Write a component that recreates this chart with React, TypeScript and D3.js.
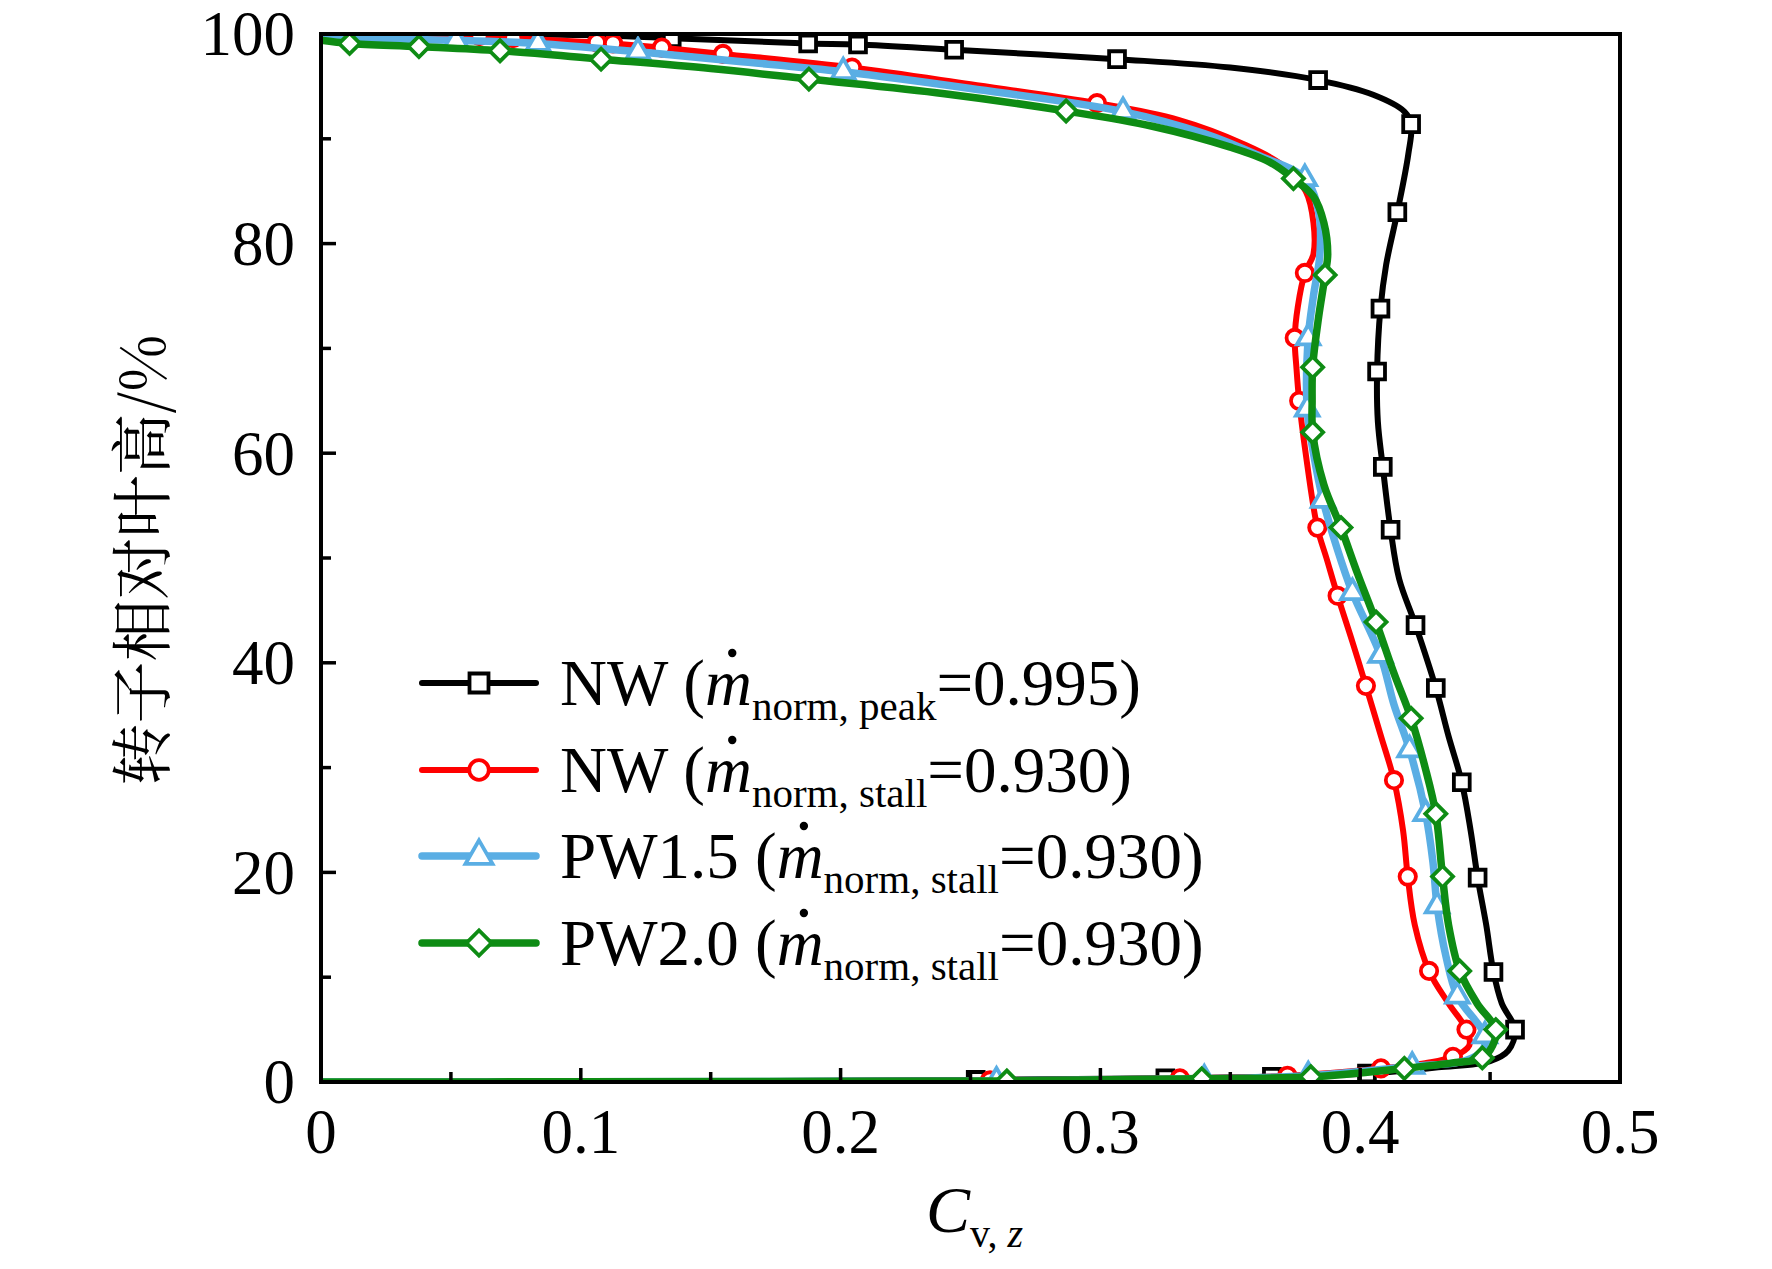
import { useEffect, useRef } from 'react';
import * as d3 from 'd3';

type Pt = [number, number];

// curves: [Cv,z, relative span %]
const nwPeakLine: Pt[] = [
  [0, 100], [0.1, 99.9], [0.135, 99.6], [0.1875, 99.1], [0.2067, 99.0], [0.2437, 98.5],
  [0.3064, 97.6], [0.35, 96.8], [0.3838, 95.6], [0.405, 94.2], [0.417, 92.6], [0.4196, 91.4],
  [0.4185, 88.5], [0.4143, 83.0], [0.41, 78.0], [0.4078, 73.8], [0.4065, 67.8], [0.4068, 63.0],
  [0.4087, 58.7], [0.4117, 52.7], [0.415, 48.0], [0.4213, 43.6], [0.4291, 37.6], [0.434, 33.0],
  [0.4391, 28.6], [0.4425, 24.0], [0.4452, 19.5], [0.4485, 15.0], [0.4513, 10.5], [0.4545, 7.5],
  [0.4596, 5.0], [0.457, 3.0], [0.45, 2.0], [0.43, 1.4], [0.4026, 0.8], [0.366, 0.5],
  [0.325, 0.35], [0.252, 0.2], [0.1, 0.05], [0, 0],
];
const nwPeakMarks: Pt[] = [
  [0.135, 99.6], [0.1875, 99.1], [0.2067, 99.0], [0.2437, 98.5], [0.3064, 97.6], [0.3838, 95.6],
  [0.4196, 91.4], [0.4143, 83.0], [0.4078, 73.8], [0.4065, 67.8], [0.4087, 58.7], [0.4117, 52.7],
  [0.4213, 43.6], [0.4291, 37.6], [0.4391, 28.6], [0.4452, 19.5], [0.4513, 10.5], [0.4596, 5.0],
  [0.4026, 0.8], [0.366, 0.5], [0.325, 0.35], [0.252, 0.2],
];

const nwStallLine: Pt[] = [
  [0, 100], [0.05, 99.9], [0.061, 99.8], [0.074, 99.6], [0.1062, 99.2], [0.1124, 99.1],
  [0.1312, 98.7], [0.1547, 98.1], [0.2044, 96.8], [0.25, 95.2], [0.2987, 93.4], [0.33, 91.8],
  [0.355, 89.5], [0.37, 87.5], [0.379, 85.0], [0.382, 82.0], [0.382, 79.0], [0.3787, 77.2],
  [0.376, 74.0], [0.3748, 71.0], [0.3755, 68.0], [0.3765, 65.0], [0.379, 60.0], [0.3835, 52.9],
  [0.387, 50.0], [0.3913, 46.4], [0.397, 42.0], [0.4022, 37.8], [0.408, 33.0], [0.413, 28.8],
  [0.4165, 24.0], [0.4183, 19.6], [0.421, 15.0], [0.4265, 10.6], [0.434, 7.5], [0.4409, 5.0],
  [0.442, 3.5], [0.4357, 2.4], [0.425, 1.8], [0.408, 1.3], [0.372, 0.6], [0.3306, 0.35],
  [0.2575, 0.15], [0.1, 0.05], [0, 0],
];
const nwStallMarks: Pt[] = [
  [0.061, 99.8], [0.074, 99.6], [0.1062, 99.2], [0.1124, 99.1], [0.1312, 98.7], [0.1547, 98.1],
  [0.2044, 96.8], [0.2987, 93.4], [0.3787, 77.2], [0.3748, 71.0], [0.3765, 65.0], [0.3835, 52.9],
  [0.3913, 46.4], [0.4022, 37.8], [0.413, 28.8], [0.4183, 19.6], [0.4265, 10.6], [0.4409, 5.0],
  [0.4357, 2.4], [0.408, 1.3], [0.372, 0.6], [0.3306, 0.35], [0.2575, 0.15],
];

const pw15Line: Pt[] = [
  [0, 99.6], [0.03, 99.5], [0.052, 99.4], [0.0835, 99.1], [0.122, 98.3], [0.16, 97.4],
  [0.201, 96.4], [0.25, 94.8], [0.3087, 92.6], [0.34, 90.5], [0.36, 88.5], [0.3787, 86.2],
  [0.384, 83.0], [0.3845, 79.0], [0.382, 75.0], [0.38, 71.0], [0.3796, 64.2], [0.382, 60.0],
  [0.3857, 55.5], [0.391, 51.0], [0.397, 46.7], [0.4078, 40.7], [0.413, 36.0], [0.419, 31.7],
  [0.4252, 25.6], [0.428, 21.0], [0.4296, 16.8], [0.433, 12.0], [0.4374, 8.2], [0.448, 4.4],
  [0.447, 3.0], [0.44, 2.0], [0.42, 1.5], [0.38, 0.6], [0.34, 0.3], [0.26, 0.1], [0.1, 0.02], [0, 0],
];
const pw15Marks: Pt[] = [
  [0.052, 99.4], [0.0835, 99.1], [0.122, 98.3], [0.201, 96.4], [0.3087, 92.6], [0.3787, 86.2],
  [0.38, 71.0], [0.3796, 64.2], [0.3857, 55.5], [0.397, 46.7], [0.4078, 40.7], [0.419, 31.7],
  [0.4252, 25.6], [0.4296, 16.8], [0.4374, 8.2], [0.448, 4.4], [0.42, 1.5], [0.38, 0.6],
  [0.34, 0.3], [0.26, 0.1],
];

const pw20Line: Pt[] = [
  [0, 99.4], [0.011, 99.1], [0.0377, 98.8], [0.0689, 98.4], [0.1078, 97.6], [0.15, 96.7],
  [0.1878, 95.7], [0.24, 94.3], [0.2868, 92.65], [0.32, 91.2], [0.35, 89.2], [0.365, 87.8],
  [0.3743, 86.2], [0.382, 84.5], [0.386, 82.0], [0.3875, 79.0], [0.3865, 77.0], [0.384, 73.0],
  [0.3817, 68.2], [0.3815, 65.0], [0.3817, 62.0], [0.386, 57.0], [0.3926, 52.9], [0.399, 48.5],
  [0.4061, 43.9], [0.413, 39.0], [0.4196, 34.7], [0.425, 30.0], [0.4291, 25.6], [0.4317, 19.6],
  [0.434, 15.0], [0.4383, 10.6], [0.445, 7.5], [0.4522, 5.0], [0.451, 3.5], [0.447, 2.3],
  [0.435, 1.8], [0.417, 1.3], [0.381, 0.5], [0.339, 0.3], [0.264, 0.1], [0.1, 0.02], [0, 0],
];
const pw20Marks: Pt[] = [
  [0.011, 99.1], [0.0377, 98.8], [0.0689, 98.4], [0.1078, 97.6], [0.1878, 95.7], [0.2868, 92.65],
  [0.3743, 86.2], [0.3865, 77.0], [0.3817, 68.2], [0.3817, 62.0], [0.3926, 52.9], [0.4061, 43.9],
  [0.4196, 34.7], [0.4291, 25.6], [0.4317, 19.6], [0.4383, 10.6], [0.4522, 5.0], [0.447, 2.3],
  [0.417, 1.3], [0.381, 0.5], [0.339, 0.3], [0.264, 0.1],
];

const legendNames = ['NW', 'NW', 'PW1.5', 'PW2.0'];
const legendSubs = ['norm, peak', 'norm, stall', 'norm, stall', 'norm, stall'];
const legendValues = ['0.995', '0.930', '0.930', '0.930'];

const xTicks = [0, 0.1, 0.2, 0.3, 0.4, 0.5];
const yTicks = [0, 20, 40, 60, 80, 100];

const SERIES = [
  { line: nwPeakLine, marks: nwPeakMarks, color: '#000000', width: 6, marker: 'square' },
  { line: nwStallLine, marks: nwStallMarks, color: '#ff0000', width: 6, marker: 'circle' },
  { line: pw15Line, marks: pw15Marks, color: '#5aaee4', width: 7.5, marker: 'triangle' },
  { line: pw20Line, marks: pw20Marks, color: '#0e8c14', width: 7.5, marker: 'diamond' },
];

const W = 1772;
const H = 1269;
const SERIF = '"Liberation Serif", "Times New Roman", serif';

function markerPath(kind: string, big: boolean) {
  const k = big ? 1.2 : 1;
  if (kind === 'square') return { d: d3.symbol(d3.symbolSquare, 250 * k * k)(), rot: 0 };
  if (kind === 'circle') return { d: d3.symbol(d3.symbolCircle, 210 * k * k)(), rot: 0 };
  if (kind === 'triangle') return { d: d3.symbol(d3.symbolTriangle, 220 * k * k)(), rot: 0 };
  return { d: d3.symbol(d3.symbolSquare, 220 * k * k)(), rot: 45 };
}

export default function App() {
  const svgRef = useRef<SVGSVGElement>(null);

  useEffect(() => {
    if (!svgRef.current) return;
    const svg = d3.select(svgRef.current);
    svg.selectAll('*').remove();

    const left = 321, right = 1620, top = 34, bottom = 1082;

    const x = d3.scaleLinear().domain([0, 0.5]).range([left, right]);
    const y = d3.scaleLinear().domain([0, 100]).range([bottom, top]);

    svg.append('defs')
      .append('clipPath')
      .attr('id', 'plot-clip')
      .append('rect')
      .attr('x', left)
      .attr('y', top)
      .attr('width', right - left)
      .attr('height', bottom - top);

    const line = d3
      .line<Pt>()
      .x((d) => x(d[0]))
      .y((d) => y(d[1]))
      .curve(d3.curveCatmullRom.alpha(0.5));

    const plot = svg.append('g').attr('clip-path', 'url(#plot-clip)');

    SERIES.forEach((s) => {
      plot.append('path')
        .datum(s.line)
        .attr('fill', 'none')
        .attr('stroke', s.color)
        .attr('stroke-width', s.width)
        .attr('stroke-linejoin', 'round')
        .attr('d', line);

      const mk = markerPath(s.marker, false);
      plot.selectAll(null)
        .data(s.marks)
        .join('path')
        .attr('d', mk.d)
        .attr('transform', (d) => `translate(${x(d[0])},${y(d[1])}) rotate(${mk.rot})`)
        .attr('fill', '#fff')
        .attr('stroke', s.color)
        .attr('stroke-width', 3.8);
    });

    // frame
    svg.append('rect')
      .attr('x', left)
      .attr('y', top)
      .attr('width', right - left)
      .attr('height', bottom - top)
      .attr('fill', 'none')
      .attr('stroke', '#000')
      .attr('stroke-width', 4);

    // inward ticks
    const xMinor = d3.range(0.05, 0.5, 0.1);
    const ticksG = svg.append('g').attr('stroke', '#000').attr('stroke-width', 3.5);
    ticksG.selectAll(null)
      .data([...xTicks.slice(1, -1).map((v) => [v, 14]), ...xMinor.map((v) => [v, 10])])
      .join('line')
      .attr('x1', (d) => x(d[0]))
      .attr('x2', (d) => x(d[0]))
      .attr('y1', bottom)
      .attr('y2', (d) => bottom - d[1]);
    const yMinor = d3.range(10, 100, 20);
    ticksG.selectAll(null)
      .data([...yTicks.slice(1, -1).map((v) => [v, 15]), ...yMinor.map((v) => [v, 10])])
      .join('line')
      .attr('y1', (d) => y(d[0]))
      .attr('y2', (d) => y(d[0]))
      .attr('x1', left)
      .attr('x2', (d) => left + d[1]);

    // tick labels
    svg.append('g')
      .selectAll('text')
      .data(xTicks)
      .join('text')
      .attr('x', (d) => x(d))
      .attr('y', 1153)
      .attr('text-anchor', 'middle')
      .style('font-family', SERIF)
      .style('font-size', '63px')
      .text((d) => (d === 0 ? '0' : d3.format('.1f')(d)));

    svg.append('g')
      .selectAll('text')
      .data(yTicks)
      .join('text')
      .attr('x', 295)
      .attr('y', (d) => y(d))
      .attr('dy', '0.34em')
      .attr('text-anchor', 'end')
      .style('font-family', SERIF)
      .style('font-size', '63px')
      .text((d) => String(d));

    // axis titles
    const xt = svg.append('text')
      .attr('x', 926)
      .attr('y', 1232)
      .style('font-family', SERIF)
      .style('font-size', '66px');
    xt.append('tspan').style('font-style', 'italic').text('C');
    xt.append('tspan').attr('dy', 15).style('font-size', '40px').text('v, ');
    xt.append('tspan').style('font-size', '40px').style('font-style', 'italic').text('z');

    svg.append('text')
      .attr('transform', 'translate(143,560) rotate(-90)')
      .attr('text-anchor', 'middle')
      .attr('dy', '0.36em')
      .style('font-family', '"Noto Serif CJK SC", "Noto Sans CJK SC", serif')
      .style('font-size', '62px')
      .text('转子相对叶高/%');

    // legend
    const rowY = [683, 770, 856, 943];
    SERIES.forEach((s, i) => {
      const g = svg.append('g');
      const yy = rowY[i];
      g.append('line')
        .attr('x1', 422)
        .attr('x2', 536)
        .attr('y1', yy)
        .attr('y2', yy)
        .attr('stroke', s.color)
        .attr('stroke-width', s.width)
        .attr('stroke-linecap', 'round');
      const mk = markerPath(s.marker, true);
      g.append('path')
        .attr('d', mk.d)
        .attr('transform', `translate(479,${yy}) rotate(${mk.rot})`)
        .attr('fill', '#fff')
        .attr('stroke', s.color)
        .attr('stroke-width', 3.8);

      const t = g.append('text')
        .attr('x', 560)
        .attr('y', yy + 22)
        .style('font-family', SERIF)
        .style('font-size', '65px');
      t.append('tspan').text(`${legendNames[i]} (`);
      t.append('tspan').style('font-style', 'italic').text('m');
      t.append('tspan').attr('dy', 15).style('font-size', '41px').text(legendSubs[i]);
      t.append('tspan').attr('dy', -15).text(`=${legendValues[i]})`);

      const node = t.node() as SVGTextElement;
      const idx = legendNames[i].length + 2;
      const ext = node.getExtentOfChar(idx);
      g.append('circle')
        .attr('cx', ext.x + ext.width * 0.58)
        .attr('cy', yy + 22 - 52)
        .attr('r', 4.2)
        .attr('fill', '#000');
    });
  }, []);

  return (
    <svg
      ref={svgRef}
      width={W}
      height={H}
      style={{ position: 'absolute', left: 0, top: 0, background: '#fff' }}
    />
  );
}
